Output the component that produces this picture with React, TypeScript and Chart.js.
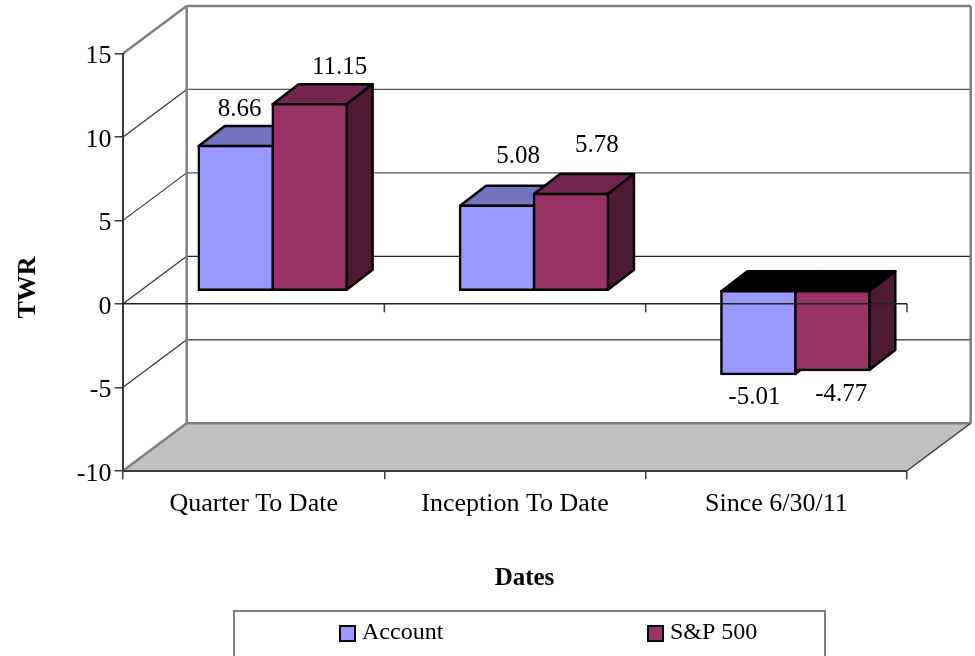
import React, { useEffect, useRef } from "react";
import { Chart, registerables } from "chart.js";

Chart.register(...registerables);

const categories = ["Quarter To Date", "Inception To Date", "Since 6/30/11"];
const accountValues = [8.66, 5.08, -5.01];
const sp500Values = [11.15, 5.78, -4.77];
const seriesNames = ["Account", "S&P 500"];
const xTitle = "Dates";
const yTitle = "TWR";

const FONT = "'Liberation Serif', 'Times New Roman', serif";
const INK = "#000000";
const AXIS = "#3a3a3a";
const WALL = "#808080";
const WALL_DX = 63.7;
const WALL_DY = -47.5;
const BAR_DX = 19;
const BAR_DY = -13.4;
const DEPTH_DX = 26;
const DEPTH_DY = -20;
const EDGE = 2.5;
const FRONT = ["#9999FF", "#993366"];
const TOP = ["#7373BF", "#732650"];
const SIDE = ["#4D4D80", "#4D1933"];
const LABEL_SHIFT = [
  [[4, -36], [21, -49], [-4, 23]],
  [[30, -37], [26, -48.5], [9, 24]],
];

const line = (ctx: any, x1: number, y1: number, x2: number, y2: number, color: string, w: number) => {
  ctx.strokeStyle = color;
  ctx.lineWidth = w;
  ctx.beginPath();
  ctx.moveTo(x1, y1);
  ctx.lineTo(x2, y2);
  ctx.stroke();
};

const poly = (ctx: any, pts: number[][], fill: string, stroke: string, w: number) => {
  ctx.beginPath();
  pts.forEach((p, i) => (i ? ctx.lineTo(p[0], p[1]) : ctx.moveTo(p[0], p[1])));
  ctx.closePath();
  ctx.fillStyle = fill;
  ctx.fill();
  ctx.strokeStyle = stroke;
  ctx.lineWidth = w;
  ctx.lineJoin = "round";
  ctx.stroke();
};

const threeD = {
  id: "threeD",
  beforeDraw(chart: any) {
    const { ctx, chartArea: a, scales } = chart;
    const y = scales.y;
    const bottom = y.getPixelForValue(-10);
    ctx.save();
    // floor
    ctx.beginPath();
    ctx.moveTo(a.left, bottom);
    ctx.lineTo(a.left + WALL_DX, bottom + WALL_DY);
    ctx.lineTo(a.right + WALL_DX, bottom + WALL_DY);
    ctx.lineTo(a.right, bottom);
    ctx.closePath();
    ctx.fillStyle = "#C0C0C0";
    ctx.fill();
    // side-wall and back-wall grid
    y.ticks.forEach((t: any) => {
      const py = y.getPixelForValue(t.value);
      if (t.value === -10) return;
      const top = t.value === 15;
      const c = top ? WALL : t.value === 0 ? "#222222" : "#555555";
      line(ctx, a.left, py, a.left + WALL_DX, py + WALL_DY, top ? WALL : "#333333", top ? 2.5 : 1.2);
      line(ctx, a.left + WALL_DX, py + WALL_DY, a.right + WALL_DX, py + WALL_DY, c, top ? 2.5 : 1.3);
    });
    const wallTop = y.getPixelForValue(15) + WALL_DY;
    const wallBottom = bottom + WALL_DY;
    line(ctx, a.left + WALL_DX, wallTop, a.left + WALL_DX, wallBottom, WALL, 2.5);
    line(ctx, a.right + WALL_DX, wallTop, a.right + WALL_DX, wallBottom, WALL, 2.5);
    line(ctx, a.left + WALL_DX, wallBottom, a.right + WALL_DX, wallBottom, WALL, 2.5);
    line(ctx, a.left, bottom, a.left + WALL_DX, wallBottom, WALL, 2.5);
    line(ctx, a.right, bottom, a.right + WALL_DX, wallBottom, "#333333", 1.3);
    ctx.restore();
  },
  beforeDatasetsDraw(chart: any) {
    const { ctx } = chart;
    ctx.save();
    ctx.translate(BAR_DX, BAR_DY);
    chart.data.datasets.forEach((_: any, d: number) => {
      chart.getDatasetMeta(d).data.forEach((bar: any) => {
        const { x, y, base, width } = bar.getProps(["x", "y", "base", "width"], true);
        const l = x - width / 2;
        const r = x + width / 2;
        const hi = Math.min(y, base);
        const lo = Math.max(y, base);
        const negative = y > base;
        poly(ctx, [[l, hi], [l + DEPTH_DX, hi + DEPTH_DY], [r + DEPTH_DX, hi + DEPTH_DY], [r, hi]], negative ? "#000000" : TOP[d], INK, EDGE);
        poly(ctx, [[r, hi], [r + DEPTH_DX, hi + DEPTH_DY], [r + DEPTH_DX, lo + DEPTH_DY], [r, lo]], SIDE[d], INK, EDGE);
      });
    });
    // fronts are drawn by the library, shifted to sit inside the box
  },
  afterDatasetsDraw(chart: any) {
    const { ctx, chartArea: a, scales } = chart;
    ctx.restore();
    ctx.save();
    // zero line with its ticks
    const zero = scales.y.getPixelForValue(0);
    line(ctx, a.left, zero, a.right, zero, "#222222", 1.5);
    const step = (a.right - a.left) / categories.length;
    for (let i = 0; i <= categories.length; i++) {
      line(ctx, a.left + i * step, zero, a.left + i * step, zero + 8.5, AXIS, 1.5);
    }
    // value labels
    ctx.fillStyle = INK;
    ctx.font = `25px ${FONT}`;
    ctx.textAlign = "center";
    ctx.textBaseline = "middle";
    chart.data.datasets.forEach((ds: any, d: number) => {
      chart.getDatasetMeta(d).data.forEach((bar: any, i: number) => {
        const { x, y, base } = bar.getProps(["x", "y", "base"], true);
        const edge = ds.data[i] >= 0 ? Math.min(y, base) : Math.max(y, base);
        const [sx, sy] = LABEL_SHIFT[d][i];
        ctx.fillText(ds.data[i].toFixed(2), x + BAR_DX + sx, edge + BAR_DY + sy);
      });
    });
    // axis titles
    ctx.font = `bold 25px ${FONT}`;
    ctx.fillText(xTitle, 524.5, 578.5);
    ctx.save();
    ctx.translate(28, 287.5);
    ctx.rotate(-Math.PI / 2);
    ctx.font = `bold 26px ${FONT}`;
    ctx.fillText(yTitle, 0, 0);
    ctx.restore();
    // legend
    ctx.strokeStyle = "#555555";
    ctx.lineWidth = 1.5;
    ctx.strokeRect(234, 611, 591, 60);
    const markerX = [340, 648];
    ctx.textAlign = "left";
    ctx.font = `24px ${FONT}`;
    chart.data.datasets.forEach((ds: any, d: number) => {
      ctx.fillStyle = FRONT[d];
      ctx.fillRect(markerX[d], 626, 15, 15);
      ctx.strokeStyle = INK;
      ctx.lineWidth = 2;
      ctx.strokeRect(markerX[d], 626, 15, 15);
      ctx.fillStyle = INK;
      ctx.fillText(ds.label, markerX[d] + 22, 632.5);
    });
    ctx.restore();
  },
};

const nudgeLabels = (scale: any) => {
  const original = scale.drawLabels;
  scale.drawLabels = function (area: any) {
    this.ctx.save();
    this.ctx.translate(0, 1.5);
    original.call(this, area);
    this.ctx.restore();
  };
};

export default function App() {
  const ref = useRef<HTMLCanvasElement>(null);
  useEffect(() => {
    const chart = new Chart(ref.current as HTMLCanvasElement, {
      type: "bar",
      data: {
        labels: categories,
        datasets: [accountValues, sp500Values].map((data, d) => ({
          label: seriesNames[d],
          data,
          backgroundColor: FRONT[d],
          borderColor: INK,
          borderWidth: EDGE,
          borderSkipped: false,
          inflateAmount: 1.25,
          barPercentage: 1,
          categoryPercentage: 0.566,
        })),
      },
      options: {
        animation: false,
        responsive: false,
        devicePixelRatio: 1,
        layout: { padding: { left: 0, top: 53.5, right: 68, bottom: 0 } },
        plugins: { legend: { display: false }, title: { display: false }, tooltip: { enabled: false } },
        scales: {
          x: {
            afterFit: (s: any) => { s.height = 185.3; },
            grid: { drawOnChartArea: false, color: AXIS, lineWidth: 1.5, tickLength: 8.5 },
            border: { color: AXIS, width: 2 },
            ticks: { color: INK, padding: 9, maxRotation: 0, font: { family: FONT, size: 26 } },
          },
          y: {
            min: -10,
            max: 15,
            afterFit: (s: any) => { s.width = 123; },
            afterUpdate: nudgeLabels,
            grid: { drawOnChartArea: false, color: AXIS, lineWidth: 1.5, tickLength: 8.5 },
            border: { color: AXIS, width: 2 },
            ticks: { stepSize: 5, color: INK, padding: 3, font: { family: FONT, size: 26 } },
          },
        },
      } as any,
      plugins: [threeD],
    });
    return () => chart.destroy();
  }, []);
  return (
    <div style={{ position: "absolute", left: 0, top: 0, width: 975, height: 656, overflow: "hidden", background: "#fff" }}>
      <canvas ref={ref} width={975} height={656} style={{ display: "block" }} />
    </div>
  );
}
